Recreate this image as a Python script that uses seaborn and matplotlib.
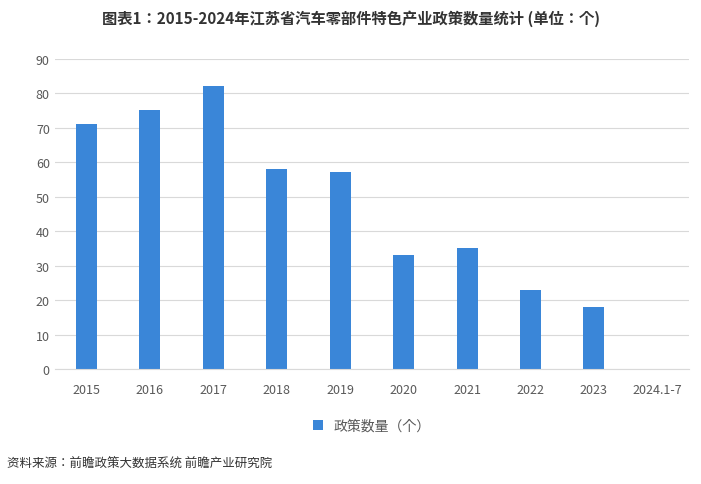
import matplotlib.pyplot as plt
import seaborn as sns
import pandas as pd

plt.rcParams['font.family'] = ['Noto Sans CJK SC', 'Noto Sans CJK JP', 'Noto Sans CJK TC', 'DejaVu Sans']

years = ['2015', '2016', '2017', '2018', '2019', '2020', '2021', '2022', '2023', '2024.1-7']
counts = [71, 75, 82, 58, 57, 33, 35, 23, 18, 0]

df = pd.DataFrame({'year': years, 'count': counts})

fig = plt.figure(figsize=(7.01, 4.85), dpi=100)
ax = fig.add_axes([0.078, 0.237, 0.905, 0.64])
sns.barplot(data=df, x='year', y='count', color='#3a86d8', width=0.33, ax=ax,
            label='政策数量（个）', saturation=1)
ax.set_ylim(0, 90)
ax.set_yticks(range(0, 91, 10))
ax.grid(axis='y', color='#d9d9d9', linewidth=0.8)
ax.set_axisbelow(True)
for s in ['top', 'right', 'left']:
    ax.spines[s].set_visible(False)
ax.spines['bottom'].set_color('#d9d9d9')
ax.tick_params(length=0, colors='#595959', labelsize=9)
ax.tick_params(axis='x', pad=10)
ax.set_xlabel('')
ax.set_ylabel('')
ax.legend(loc='upper center', bbox_to_anchor=(0.5, -0.12), frameon=False,
          fontsize=10, handlelength=0.7, handleheight=0.7, labelcolor='#595959')
fig.text(0.5, 0.962, '图表1：2015-2024年江苏省汽车零部件特色产业政策数量统计 (单位：个)',
         ha='center', va='center', fontsize=11, fontweight='bold', color='#333333')
fig.text(0.01, 0.043, '资料来源：前瞻政策大数据系统 前瞻产业研究院', ha='left', va='center',
         fontsize=9, color='#333333')
fig.savefig('out.png', dpi=100)
